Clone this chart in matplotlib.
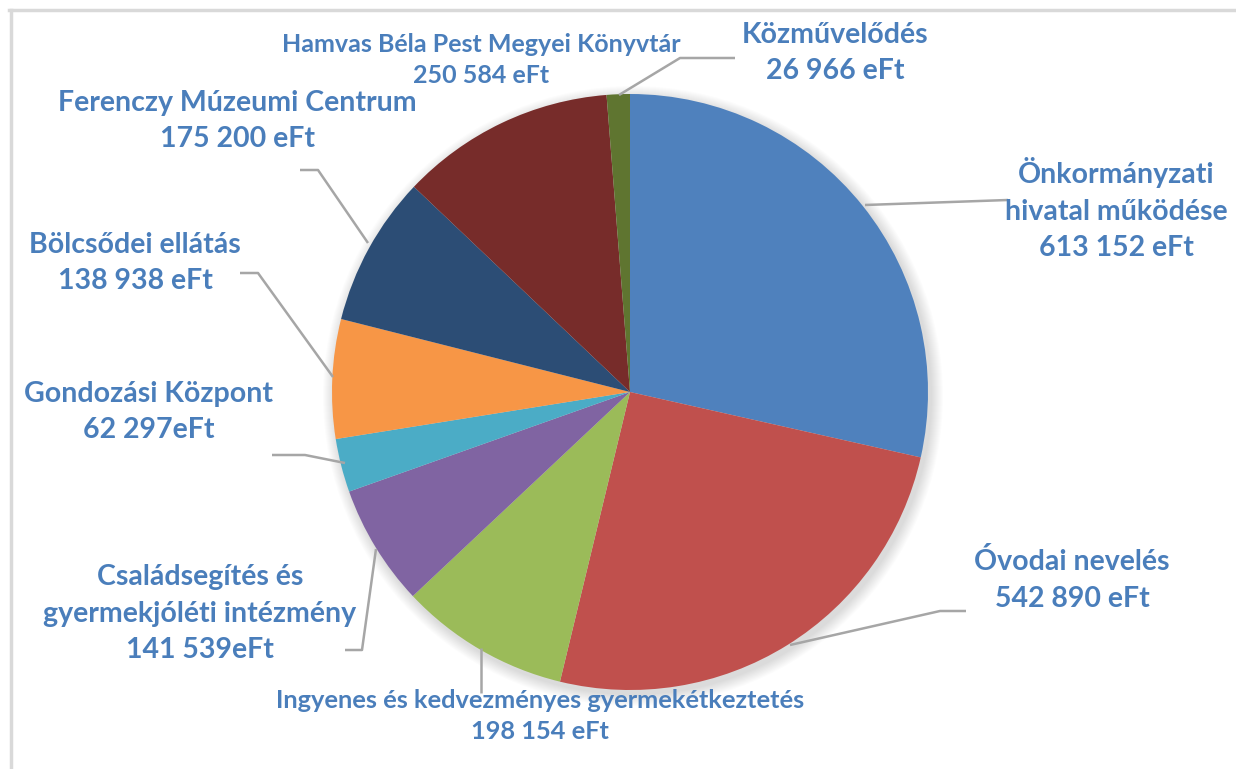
import numpy as np
import matplotlib.pyplot as plt
from matplotlib.patches import Circle

W, H = 1236, 769

labels = ["Önkormányzati\nhivatal működése\n613 152 eFt",
          "Óvodai nevelés\n542 890 eFt",
          "Ingyenes és kedvezményes gyermekétkeztetés\n198 154 eFt",
          "Családsegítés és\ngyermekjóléti intézmény\n141 539eFt",
          "Gondozási Központ\n62 297eFt",
          "Bölcsődei ellátás\n138 938 eFt",
          "Ferenczy Múzeumi Centrum\n175 200 eFt",
          "Hamvas Béla Pest Megyei Könyvtár\n250 584 eFt",
          "Közművelődés\n26 966 eFt"]
values = [613152, 542890, 198154, 141539, 62297, 138938, 175200, 250584, 26966]
colors = ["#4f81bd", "#c0504d", "#9bbb59", "#8064a2", "#4bacc6",
          "#f79646", "#2c4d75", "#772c2a", "#5f7530"]

# label centre (px, from top-left), font size, line spacing
label_pos = [(1116, 209, 20.5, 1.5), (1072, 580, 20.5, 1.5), (540, 716, 18.3, 1.45),
             (200, 614, 20.5, 1.5), (149, 412, 20.5, 1.5), (135, 263, 20.5, 1.5),
             (237, 121, 20.5, 1.5), (481, 60, 18, 1.38), (835, 53, 20.5, 1.5)]
leaders = [[(865, 205), (1008, 200)],
           [(790, 645), (940, 611), (966, 611)],
           [(481, 648), (481, 693)],
           [(376, 549), (362, 650), (345, 650)],
           [(345, 463), (305, 455), (272, 455)],
           [(333, 377), (258, 273), (240, 273)],
           [(368, 243), (318, 170), (300, 170)],
           None,
           [(619, 95), (680, 58), (735, 58)]]

cx, cy, r = 630, 392, 298
text_color = "#4a7ebb"

fig = plt.figure(figsize=(W / 100, H / 100), dpi=100)
ax = fig.add_axes([0, 0, 1, 1])

# soft shadow under the pie
for i in range(12):
    ax.add_patch(Circle((cx + 3, H - cy - 4), r + 12 - i, color="black",
                        alpha=0.012, lw=0, zorder=0))

ax.pie(values, colors=colors, startangle=90, counterclock=False,
       center=(cx, H - cy), radius=r, frame=True,
       wedgeprops=dict(linewidth=0))
ax.set_xlim(0, W)
ax.set_ylim(0, H)
ax.set_aspect("equal")
ax.axis("off")

for lab, (x, y, fs, ls), pts in zip(labels, label_pos, leaders):
    ax.text(x, H - y, lab, ha="center", va="center", fontsize=fs,
            fontweight="bold", family="Lato", color=text_color,
            linespacing=ls, zorder=5)
    if pts:
        ax.plot([p[0] for p in pts], [H - p[1] for p in pts],
                color="#a6a6a6", lw=1.8, zorder=4, solid_capstyle="butt")

# chart frame (left and top edge visible)
fig.add_artist(plt.Line2D([10.5 / W, 10.5 / W], [0, 1 - 9.5 / H],
                          color="#d9d9d9", lw=2.5, transform=fig.transFigure))
fig.add_artist(plt.Line2D([9 / W, 1], [1 - 9.5 / H, 1 - 9.5 / H],
                          color="#d9d9d9", lw=2.5, transform=fig.transFigure))

fig.savefig("out.png", dpi=100, facecolor="white")
